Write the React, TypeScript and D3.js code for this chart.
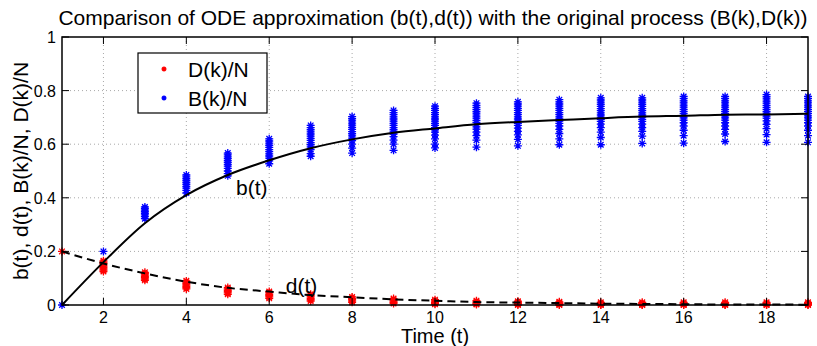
import { useEffect, useRef } from 'react';
import * as d3 from 'd3';

// time steps k = 1..19
const steps = [1, 2, 3, 4, 5, 6, 7, 8, 9, 10, 11, 12, 13, 14, 15, 16, 17, 18, 19];

// ODE solution
const bCurve = [0, 0.16, 0.305, 0.41, 0.485, 0.54, 0.585, 0.618, 0.643, 0.659, 0.674, 0.683, 0.69, 0.697, 0.703, 0.706, 0.71, 0.711, 0.714];
const dCurve = [0.2, 0.155, 0.118, 0.087, 0.064, 0.05, 0.037, 0.029, 0.021, 0.016, 0.011, 0.009, 0.007, 0.005, 0.004, 0.003, 0.002, 0.002, 0.001];

// simulated runs B(k)/N, one list per step
const bRuns = [
  [0],
  [0.2],
  [0.366, 0.36, 0.354, 0.348, 0.342, 0.336, 0.33, 0.322],
  [0.485, 0.478, 0.471, 0.464, 0.457, 0.45, 0.443, 0.436, 0.428, 0.418],
  [0.567, 0.56, 0.553, 0.546, 0.539, 0.532, 0.525, 0.518, 0.51, 0.5, 0.49, 0.482],
  [0.62, 0.612, 0.604, 0.596, 0.588, 0.58, 0.572, 0.564, 0.556, 0.548, 0.538, 0.527],
  [0.67, 0.662, 0.654, 0.646, 0.638, 0.63, 0.622, 0.614, 0.606, 0.598, 0.59, 0.58, 0.565, 0.555],
  [0.703, 0.695, 0.687, 0.679, 0.671, 0.663, 0.655, 0.647, 0.639, 0.631, 0.623, 0.613, 0.6, 0.585, 0.567],
  [0.726, 0.718, 0.71, 0.702, 0.694, 0.686, 0.678, 0.67, 0.662, 0.654, 0.646, 0.638, 0.628, 0.615, 0.6, 0.577],
  [0.742, 0.734, 0.726, 0.718, 0.71, 0.702, 0.694, 0.686, 0.678, 0.67, 0.662, 0.654, 0.645, 0.634, 0.62, 0.6, 0.586],
  [0.753, 0.745, 0.737, 0.729, 0.721, 0.713, 0.705, 0.697, 0.689, 0.681, 0.673, 0.665, 0.656, 0.645, 0.632, 0.615, 0.589],
  [0.758, 0.75, 0.742, 0.734, 0.726, 0.718, 0.71, 0.702, 0.694, 0.686, 0.678, 0.67, 0.66, 0.648, 0.635, 0.618, 0.594],
  [0.766, 0.758, 0.75, 0.742, 0.734, 0.726, 0.718, 0.71, 0.702, 0.694, 0.686, 0.678, 0.668, 0.655, 0.64, 0.62, 0.598],
  [0.773, 0.765, 0.757, 0.749, 0.741, 0.733, 0.725, 0.717, 0.709, 0.701, 0.693, 0.685, 0.675, 0.662, 0.645, 0.625, 0.598],
  [0.773, 0.765, 0.757, 0.749, 0.741, 0.733, 0.725, 0.717, 0.709, 0.701, 0.693, 0.685, 0.675, 0.662, 0.648, 0.63, 0.603],
  [0.778, 0.77, 0.762, 0.754, 0.746, 0.738, 0.73, 0.722, 0.714, 0.706, 0.698, 0.69, 0.68, 0.668, 0.652, 0.632, 0.604],
  [0.778, 0.77, 0.762, 0.754, 0.746, 0.738, 0.73, 0.722, 0.714, 0.706, 0.698, 0.69, 0.68, 0.668, 0.655, 0.638, 0.61],
  [0.785, 0.777, 0.769, 0.761, 0.753, 0.745, 0.737, 0.729, 0.721, 0.713, 0.705, 0.697, 0.687, 0.674, 0.658, 0.636, 0.607],
  [0.778, 0.77, 0.762, 0.754, 0.746, 0.738, 0.73, 0.722, 0.714, 0.706, 0.698, 0.69, 0.68, 0.668, 0.652, 0.632, 0.607],
];

// simulated runs D(k)/N, one list per step
const dRuns = [
  [0.2],
  [0.165, 0.16, 0.155, 0.15, 0.145, 0.14, 0.135, 0.13, 0.125],
  [0.122, 0.117, 0.112, 0.107, 0.102, 0.097, 0.092],
  [0.09, 0.085, 0.08, 0.075, 0.07, 0.065, 0.06],
  [0.065, 0.06, 0.055, 0.05, 0.045, 0.04],
  [0.05, 0.045, 0.04, 0.035, 0.03, 0.025],
  [0.04, 0.035, 0.03, 0.025, 0.02, 0.015],
  [0.03, 0.025, 0.02, 0.015, 0.01],
  [0.024, 0.02, 0.015, 0.01, 0.006],
  [0.02, 0.015, 0.01, 0.006, 0.003],
  [0.016, 0.012, 0.008, 0.004, 0.002],
  [0.014, 0.01, 0.006, 0.003, 0],
  [0.012, 0.008, 0.005, 0.002, 0],
  [0.01, 0.006, 0.003, 0.001, 0],
  [0.01, 0.006, 0.003, 0.001, 0],
  [0.01, 0.006, 0.003, 0.001, 0],
  [0.01, 0.006, 0.003, 0.001, 0],
  [0.01, 0.006, 0.003, 0.001, 0],
  [0.01, 0.006, 0.003, 0.001, 0],
];

const xTicks = [2, 4, 6, 8, 10, 12, 14, 16, 18];
const yTicks = [0, 0.2, 0.4, 0.6, 0.8, 1];

const FONT = '"Liberation Sans", Arial, Helvetica, sans-serif';

const App = () => {
  const ref = useRef<SVGSVGElement>(null);

  useEffect(() => {
    const svg = d3.select(ref.current);
    svg.selectAll('*').remove();

    const margin = { top: 37, right: 9, bottom: 41, left: 62 };
    const W = 817;
    const H = 346;
    const width = W - margin.left - margin.right;
    const height = H - margin.top - margin.bottom;

    const x = d3.scaleLinear().domain([1, 19]).range([0, width]);
    const y = d3.scaleLinear().domain([0, 1]).range([height, 0]);

    svg.append('rect').attr('width', W).attr('height', H).attr('fill', 'white');

    const g = svg.append('g').attr('transform', `translate(${margin.left},${margin.top})`);

    // gridlines
    g.append('g')
      .selectAll('line')
      .data(xTicks)
      .join('line')
      .attr('x1', d => x(d)).attr('x2', d => x(d))
      .attr('y1', 0).attr('y2', height)
      .attr('stroke', '#a8a8a8').attr('stroke-width', 1)
      .attr('stroke-dasharray', '1,3');
    g.append('g')
      .selectAll('line')
      .data(yTicks.filter(d => d > 0 && d < 1))
      .join('line')
      .attr('x1', 0).attr('x2', width)
      .attr('y1', d => y(d)).attr('y2', d => y(d))
      .attr('stroke', '#a8a8a8').attr('stroke-width', 1)
      .attr('stroke-dasharray', '1,3');

    // asterisk marker
    const star = (sel: any, color: string, r: number, sw = 1.3) => {
      sel.append('path')
        .attr('d', `M${-r},0H${r}M0,${-r}V${r}M${-r * 0.7},${-r * 0.7}L${r * 0.7},${r * 0.7}M${-r * 0.7},${r * 0.7}L${r * 0.7},${-r * 0.7}`)
        .attr('stroke', color)
        .attr('stroke-width', sw)
        .attr('fill', 'none');
    };

    const bPts = steps.flatMap((k, i) => bRuns[i].map(v => ({ k, v })));
    const dPts = steps.flatMap((k, i) => dRuns[i].map(v => ({ k, v })));

    const bG = g.append('g');
    bPts.forEach(p => {
      const m = bG.append('g').attr('transform', `translate(${x(p.k)},${y(p.v)})`);
      star(m, '#0000ff', 4);
    });
    const dG = g.append('g');
    dPts.forEach(p => {
      const m = dG.append('g').attr('transform', `translate(${x(p.k)},${y(p.v)})`);
      star(m, '#ff0000', 4);
    });

    // ODE curves
    const line = d3.line<number>()
      .x((_, i) => x(steps[i]))
      .y(d => y(d))
      .curve(d3.curveMonotoneX);

    g.append('path')
      .attr('d', line(bCurve))
      .attr('fill', 'none')
      .attr('stroke', 'black')
      .attr('stroke-width', 2);
    g.append('path')
      .attr('d', line(dCurve))
      .attr('fill', 'none')
      .attr('stroke', 'black')
      .attr('stroke-width', 2)
      .attr('stroke-dasharray', '8,5');

    // curve labels
    g.append('text')
      .attr('x', x(5.2)).attr('y', y(0.41))
      .style('font-family', FONT).style('font-size', '21px')
      .text('b(t)');
    g.append('text')
      .attr('x', x(6.4)).attr('y', y(0.045))
      .style('font-family', FONT).style('font-size', '21px')
      .text('d(t)');

    // box and inward ticks
    g.append('rect')
      .attr('width', width).attr('height', height)
      .attr('fill', 'none').attr('stroke', 'black').attr('stroke-width', 1.5);

    const tl = 7;
    xTicks.forEach(t => {
      g.append('line').attr('x1', x(t)).attr('x2', x(t)).attr('y1', height).attr('y2', height - tl).attr('stroke', 'black');
      g.append('line').attr('x1', x(t)).attr('x2', x(t)).attr('y1', 0).attr('y2', tl).attr('stroke', 'black');
    });
    yTicks.forEach(t => {
      g.append('line').attr('x1', 0).attr('x2', tl).attr('y1', y(t)).attr('y2', y(t)).attr('stroke', 'black');
      g.append('line').attr('x1', width).attr('x2', width - tl).attr('y1', y(t)).attr('y2', y(t)).attr('stroke', 'black');
    });

    // tick labels
    g.append('g')
      .selectAll('text')
      .data(xTicks)
      .join('text')
      .attr('x', d => x(d)).attr('y', height + 18)
      .attr('text-anchor', 'middle')
      .style('font-family', FONT).style('font-size', '16px')
      .text(d => d);
    g.append('g')
      .selectAll('text')
      .data(yTicks)
      .join('text')
      .attr('x', -6).attr('y', d => y(d) + 6)
      .attr('text-anchor', 'end')
      .style('font-family', FONT).style('font-size', '16px')
      .text(d => d3.format('~g')(d));

    // axis labels and title
    svg.append('text')
      .attr('x', margin.left + width / 2).attr('y', 343)
      .attr('text-anchor', 'middle')
      .style('font-family', FONT).style('font-size', '20px')
      .text('Time (t)');
    svg.append('text')
      .attr('transform', `translate(28,${margin.top + height / 2}) rotate(-90)`)
      .attr('text-anchor', 'middle')
      .style('font-family', FONT).style('font-size', '21px')
      .text('b(t), d(t), B(k)/N, D(k)/N');
    svg.append('text')
      .attr('x', 433).attr('y', 25)
      .attr('text-anchor', 'middle')
      .style('font-family', FONT).style('font-size', '21px')
      .text('Comparison of ODE approximation (b(t),d(t)) with the original process (B(k),D(k))');

    // legend
    const legend = svg.append('g').attr('transform', 'translate(138,53)');
    legend.append('rect')
      .attr('width', 129).attr('height', 60)
      .attr('fill', 'white').attr('stroke', 'black').attr('stroke-width', 1.2);
    const entries = [
      { label: 'D(k)/N', color: '#ff0000' },
      { label: 'B(k)/N', color: '#0000ff' },
    ];
    entries.forEach((e, i) => {
      const row = legend.append('g').attr('transform', `translate(26,${16 + i * 29})`);
      star(row, e.color, 2.5, 1.5);
      row.append('text')
        .attr('x', 24).attr('y', 8)
        .style('font-family', FONT).style('font-size', '21px')
        .text(e.label);
    });
  }, []);

  return (
    <svg
      ref={ref}
      width={817}
      height={346}
      style={{ position: 'absolute', left: 0, top: 0 }}
    />
  );
};

export default App;
